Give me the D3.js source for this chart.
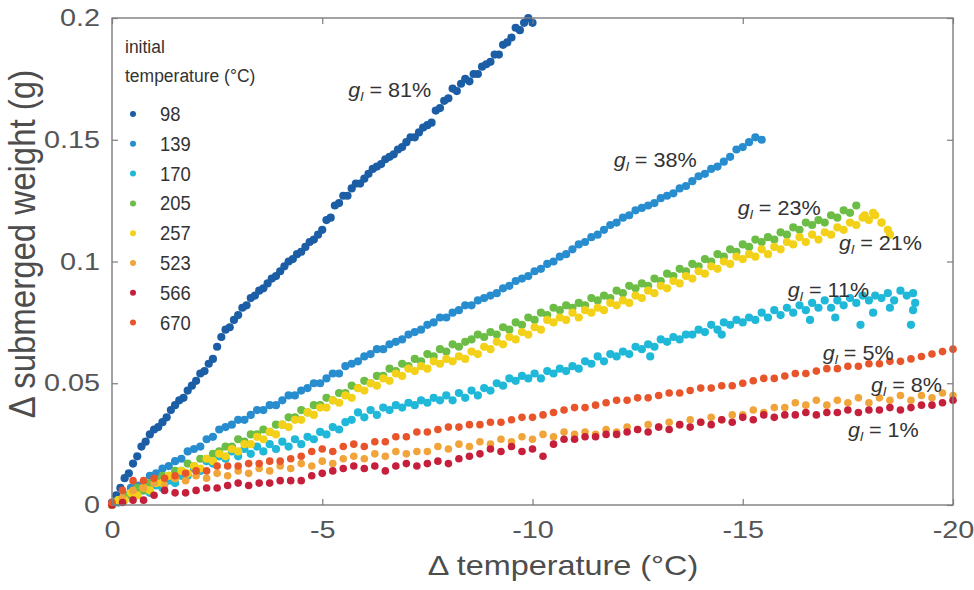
<!DOCTYPE html>
<html><head><meta charset="utf-8">
<script src="https://cdn.jsdelivr.net/npm/d3@7"></script>
<style>body{margin:0;background:#fff}</style>
</head><body><svg id="c" width="974" height="590"></svg>
<script>
// ---- data (Δ submerged weight in mg, sampled every stepC °C of cooling) ----
const seriesNames = ["98","139","170","205","257","523","566","670"];
const seriesColors = ["#1b5ea6","#288dcf","#1fb8d8","#6cbd45","#f3d118","#f1a43a","#c61f3c","#e8552b"];
const stepC = [0.1,0.15,0.15,0.15,0.15,0.25,0.25,0.25];
const w98 = [1,4,7,11,13,17,20,24,26,29,31,32,34,36,39,41,43,44,47,49,51,54,55,58,60,65,69,72,73,76,78,81,82,85,86,88,89,91,93,94,96,98,100,101,103,104,106,108,109,111,113,117,118,123,124,127,127,130,132,132,134,136,138,139,140,142,143,144,146,147,149,151,151,153,155,156,157,162,163,166,167,171,170,173,175,174,177,177,180,181,182,185,185,189,190,192,196,195,198,200,198];
const w139 = [0,2,4,7,8,9,12,13,15,16,18,19,22,23,24,27,28,31,32,33,35,35,37,39,39,41,41,43,45,45,47,48,50,50,52,54,54,57,58,59,61,62,64,64,66,67,68,70,71,72,74,75,77,77,79,80,82,82,84,85,86,87,89,90,92,93,94,96,97,99,100,102,103,105,107,108,110,111,113,115,116,118,119,121,122,123,124,126,127,128,130,131,133,135,136,138,139,141,143,146,147,149,151,150];
const w170 = [0,1,3,4,4,6,5,8,7,10,9,12,12,15,14,18,17,20,19,22,20,23,21,24,22,25,23,26,24,27,25,28,27,30,29,32,31,34,35,38,36,39,37,40,39,41,40,42,41,43,42,44,43,45,43,46,44,47,45,48,47,50,49,52,51,53,52,54,52,55,54,56,55,57,56,59,58,61,59,62,61,63,62,65,64,66,65,68,67,69,68,70,70,72,71,74,72,75,74,76,75,77,76,79,77,80,78,81,79,82,80,83,81,84,81,84,82,85,83,86,84,86,85,87,84,88,86,87];
const w205 = [0,2,4,4,7,6,9,10,12,12,14,14,17,16,19,19,21,22,24,24,27,26,29,29,31,30,33,33,36,36,39,38,41,41,44,43,46,46,49,48,51,50,53,53,56,55,58,57,60,59,62,61,64,63,66,65,67,68,70,69,71,70,73,72,75,74,77,76,79,78,81,80,82,81,83,82,85,84,86,85,88,87,90,89,91,90,93,92,95,94,97,96,99,98,101,100,103,102,105,104,107,106,109,108,110,109,112,111,114,113,116,115,117,116,119,118,121,120,123];
const w257 = [0,2,2,5,4,7,6,9,9,12,11,14,13,16,15,19,18,21,20,23,22,25,25,28,27,30,29,33,32,35,35,38,37,40,40,43,42,45,44,48,47,50,49,52,51,54,53,56,55,57,56,59,58,60,59,61,60,63,62,65,64,67,66,69,68,71,70,73,72,76,75,77,76,79,77,80,79,81,80,83,82,84,83,86,85,88,87,90,89,92,91,94,93,96,95,98,97,100,99,102,101,103,102,105,103,106,105,108,107,110,108,111,109,112,111,114,113,116,115,118,117,119,116,113];
const w523 = [0,3,6,7,9,8,11,10,12,11,13,12,14,13,15,14,16,15,17,16,18,17,19,20,19,21,20,22,21,22,22,24,23,25,24,26,25,27,26,28,27,29,28,30,29,30,29,31,30,32,31,33,32,34,33,35,34,36,35,37,37,39,38,40,40,42,41,43,41,43,42,44,42,44,43,45,43,45,44,46,45];
const w566 = [0,1,2,2,4,6,5,5,6,7,7,8,9,8,9,9,10,10,10,12,13,14,15,16,15,16,14,16,17,16,17,18,17,19,20,21,23,22,24,22,23,20,25,27,27,28,28,29,29,30,31,30,32,31,33,32,34,33,35,34,36,35,37,36,37,37,38,37,38,38,39,38,39,39,40,39,40,41,41,42,43];
const w670 = [1,6,10,10,11,11,12,13,14,14,16,16,16,17,17,18,18,19,20,22,23,22,24,25,24,26,26,28,28,30,30,31,32,32,33,33,34,34,35,36,36,37,38,39,40,40,41,42,43,43,44,44,45,46,46,47,48,48,49,49,50,51,52,52,53,54,54,55,56,56,57,57,58,58,59,59,60,61,62,63,64];
const seriesValues = [w98,w139,w170,w205,w257,w523,w566,w670];
// extra scattered readings [Δ°C, mg]
const extra170 = [[-17.8,74],[-17.2,77],[-16.6,76],[-18.1,79],[-19.05,80],[-19.0,74],[-18.5,81],[-19.1,83],[-14.5,70],[-12.8,61]];
const extra257 = [[-17.9,119],[-18.1,120],[-18.3,116],[-18.5,111]];
const xTicks = [0,-5,-10,-15,-20];
const yTicks = [0,0.05,0.1,0.15,0.2];
const annText = ["81%","38%","23%","21%","11%","5%","8%","1%"];
const annT = [-5.62,-11.93,-14.88,-17.29,-16.07,-16.9,-18.05,-17.5];
const annW = [0.1676,0.1388,0.1191,0.1047,0.0854,0.0595,0.0464,0.0279];

// ---- drawing ----
const W=974,H=590,m={l:112,r:21,t:18,b:85};
const svg=d3.select("#c");
const FONT='"Liberation Sans", Arial, Helvetica, sans-serif';
const x=d3.scaleLinear().domain([0,-20]).range([m.l,W-m.r]);
const y=d3.scaleLinear().domain([0,0.2]).range([H-m.b,m.t]);
const SX=1.2;

// points
const plot=svg.append("g");
seriesValues.forEach((arr,i)=>{
  let pts=arr.map((v,j)=>[-j*stepC[i],v]);
  if(i===2) pts=pts.concat(extra170);
  if(i===4) pts=pts.concat(extra257);
  plot.append("g").selectAll("circle").data(pts).join("circle")
    .attr("cx",d=>x(d[0])).attr("cy",d=>y(d[1]/1000)).attr("r",stepC[i]<0.2?4.1:3.8)
    .attr("fill",seriesColors[i]);
});

// frame
svg.append("rect").attr("x",m.l).attr("y",m.t).attr("width",W-m.l-m.r).attr("height",H-m.t-m.b)
  .attr("fill","none").attr("stroke","#7d7d7d").attr("stroke-width",1.4);

function styleAxis(g){
  g.select(".domain").remove();
  g.selectAll(".tick line").attr("stroke","#7d7d7d").attr("stroke-width",1.2);
  g.selectAll(".tick text").attr("fill","#555").attr("font-size",24).attr("font-family",FONT)
    .attr("transform",`scale(${SX},1)`);
}
svg.append("g").attr("transform",`translate(0,${H-m.b})`)
  .call(d3.axisBottom(x).tickValues(xTicks).tickSize(-6).tickPadding(16).tickFormat(d=>String(d))).call(styleAxis);
svg.append("g").attr("transform",`translate(0,${m.t})`)
  .call(d3.axisTop(x).tickValues(xTicks).tickSize(-6).tickFormat("")).call(styleAxis);
svg.append("g").attr("transform",`translate(${m.l},0)`)
  .call(d3.axisLeft(y).tickValues(yTicks).tickSize(-6).tickPadding(10).tickFormat(d=>String(d))).call(styleAxis);
svg.append("g").attr("transform",`translate(${W-m.r},0)`)
  .call(d3.axisRight(y).tickValues(yTicks).tickSize(-6).tickFormat("")).call(styleAxis);

// axis titles
svg.append("text").attr("transform",`translate(563,575) scale(${SX},1)`).attr("text-anchor","middle")
  .attr("font-family",FONT).attr("font-size",27).attr("fill","#4d4d4d").text("Δ temperature (°C)");
svg.append("text").attr("transform",`translate(35,244) scale(1.1,1) rotate(-90)`).attr("text-anchor","middle")
  .attr("font-family",FONT).attr("font-size",33).attr("fill","#4d4d4d").text("Δ submerged weight (g)");

// legend
const lg=svg.append("g").attr("font-family",FONT).attr("fill","#333");
lg.append("text").attr("transform","translate(125,53) scale(0.92,1)").attr("font-size",19).text("initial");
lg.append("text").attr("transform","translate(125,82) scale(0.92,1)").attr("font-size",19).text("temperature (°C)");
seriesNames.forEach((n,i)=>{
  const cy=114+i*29.8;
  lg.append("circle").attr("cx",133).attr("cy",cy).attr("r",3).attr("fill",seriesColors[i]);
  lg.append("text").attr("transform",`translate(160,${cy+7}) scale(0.92,1)`).attr("font-size",20).text(n);
});

// annotations
annText.forEach((t,i)=>{
  const tx=svg.append("text").attr("transform",`translate(${x(annT[i])},${y(annW[i])}) scale(1.08,1)`)
    .attr("font-family",FONT).attr("font-size",20).attr("fill","#333");
  tx.append("tspan").attr("font-style","italic").text("g");
  tx.append("tspan").attr("font-style","italic").attr("font-size",13).attr("dy",4).text("l");
  tx.append("tspan").attr("dy",-4).text(" = "+t);
});
</script></body></html>
